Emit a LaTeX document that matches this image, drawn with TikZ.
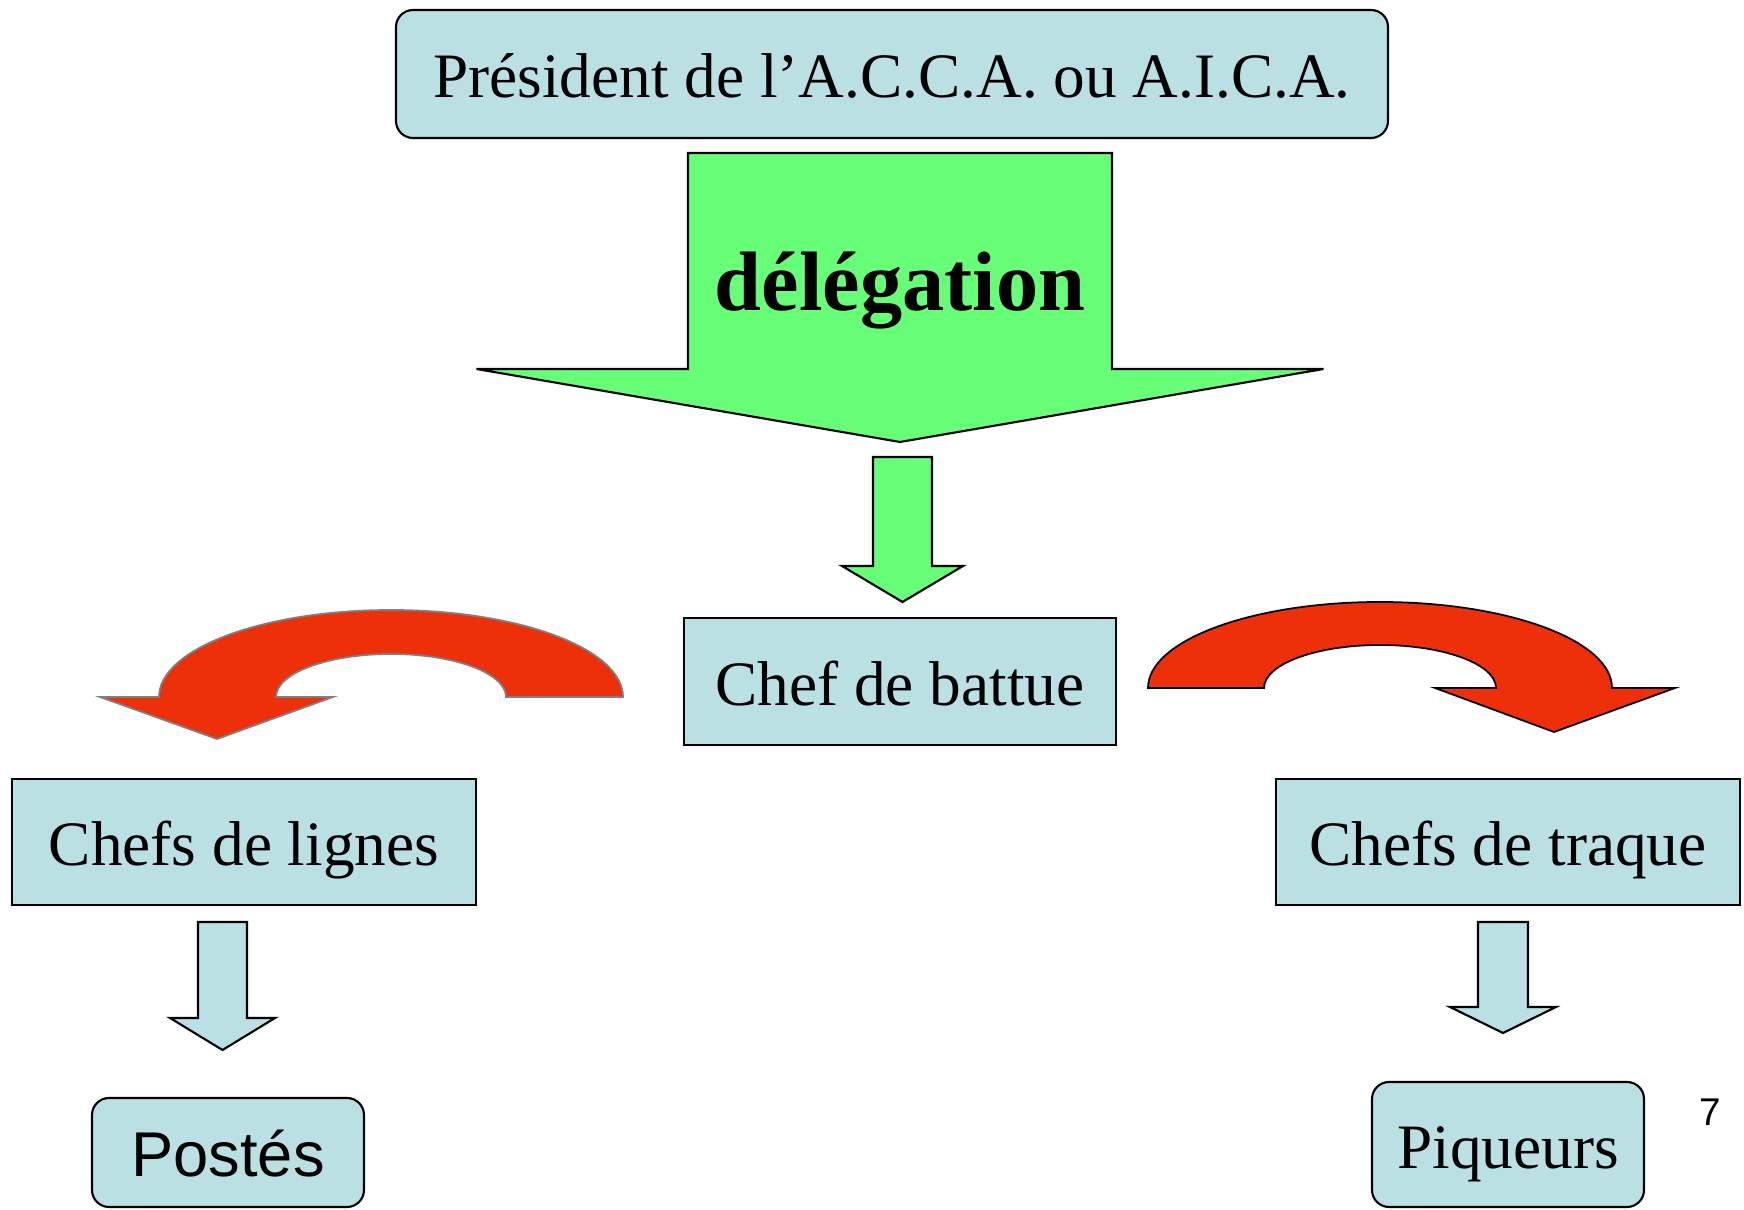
\documentclass[tikz,border=0pt]{standalone}
\usepackage{fontspec}
\setmainfont{Liberation Serif}
\setsansfont{Liberation Sans}
\usepackage{xcolor}
\usepackage{tikz}
\definecolor{boxblue}{RGB}{187,224,227}
\definecolor{delegreen}{RGB}{102,255,119}
\definecolor{turnred}{RGB}{238,48,10}
\tikzset{
    rolebox/.style={draw=black,line width=0.6pt,fill=boxblue,inner sep=0pt,
        text height=0.56cm,text depth=0.08cm,font=\fontsize{18}{22}\selectfont},
    roundbox/.style={rolebox,rounded corners=0.17cm},
    blockarrow/.style={draw=black,line width=0.6pt,line join=miter},
    turnarrow/.style={fill=turnred,line width=0.5pt},
}
% down block arrow: [fill], x, top, head base, tip, shaft half width, head half width
\newcommand{\downblock}[7][]{%
    \draw[blockarrow,#1] (#2-#6,#3) -- (#2+#6,#3) -- (#2+#6,#4) -- (#2+#7,#4)
        -- (#2,#5) -- (#2-#7,#4) -- (#2-#6,#4) -- cycle;
}
\begin{document}
\begin{tikzpicture}
    \useasboundingbox (0,0) rectangle (17.44,12.10);
    \node[roundbox,minimum width=9.92cm,minimum height=1.28cm] (pres) at (8.92,11.36) {Président de l’A.C.C.A. ou A.I.C.A.};
    % delegation
    \downblock[fill=delegreen]{9.00}{10.57}{8.41}{7.68}{2.12}{4.235}
    \node[anchor=base,font=\fontsize{24}{28}\selectfont\bfseries] (deleg) at (9.00,8.99) {délégation};
    \downblock[fill=delegreen]{9.025}{7.53}{6.44}{6.08}{0.295}{0.605}
    \node[rolebox,minimum width=4.32cm,minimum height=1.27cm] (battue) at (9.00,5.285) {Chef de battue};
    % red turning arrows
    \draw[turnarrow,draw=black!50] (6.23,5.13) arc[start angle=0,end angle=180,x radius=2.32,y radius=0.87]
        -- (1.00,5.13) -- (2.17,4.71) -- (3.33,5.13) -- (2.76,5.13)
        arc[start angle=180,end angle=0,x radius=1.15,y radius=0.43] -- cycle;
    \draw[turnarrow,draw=black] (11.48,5.22) arc[start angle=180,end angle=0,x radius=2.32,y radius=0.86]
        -- (16.75,5.22) -- (15.54,4.78) -- (14.35,5.22) -- (14.96,5.22)
        arc[start angle=0,end angle=180,x radius=1.16,y radius=0.43] -- cycle;
    \node[rolebox,minimum width=4.64cm,minimum height=1.26cm] (lignes) at (2.44,3.68) {Chefs de lignes};
    \node[rolebox,minimum width=4.64cm,minimum height=1.26cm] (traque) at (15.08,3.68) {Chefs de traque};
    \downblock[fill=boxblue]{2.225}{2.88}{1.92}{1.60}{0.245}{0.525}
    \downblock[fill=boxblue]{15.03}{2.88}{2.03}{1.77}{0.25}{0.53}
    \node[roundbox,minimum width=2.72cm,minimum height=1.09cm,font=\sffamily\fontsize{18}{22}\selectfont] (postes) at (2.28,0.575) {Postés};
    \node[roundbox,minimum width=2.72cm,minimum height=1.25cm] (piqueurs) at (15.08,0.655) {Piqueurs};
    \node[font=\sffamily\fontsize{11}{13}\selectfont] (pagenum) at (17.10,0.98) {7};
\end{tikzpicture}
\end{document}
